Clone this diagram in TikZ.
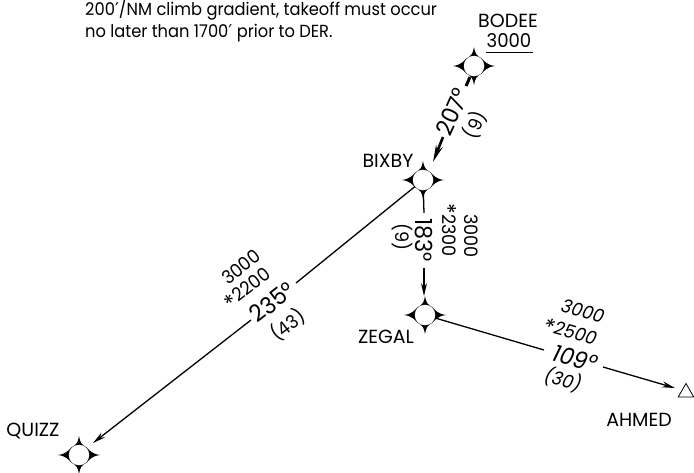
\documentclass[tikz,border=0pt]{standalone}
\usepackage{fontspec}
\setmainfont{Poppins}
\newfontfamily\primefont{DejaVu Sans}
\newfontfamily\notefont[FakeStretch=0.93]{Poppins}
\newfontfamily\narrowfont[FakeStretch=0.95]{Poppins}
\usetikzlibrary{arrows.meta,calc,shapes.geometric}
\tikzset{x=1pt,y=-1pt,
 fix/.style={circle,inner sep=0pt,minimum size=20.5pt,fill=white,draw=none},
 leg/.style={line width=1.3pt,black},
 legarrow/.style={line width=1.3pt,black,-{Stealth[length=13pt,width=6pt]}},
 lab/.style={font=\fontsize{19}{20}\selectfont,inner sep=0pt},
 num/.style={font=\narrowfont\fontsize{19}{20}\selectfont,inner sep=0pt},
 dist/.style={font=\narrowfont\fontsize{18.5}{20}\selectfont,inner sep=0pt},
 crs/.style={font=\narrowfont\fontsize{23.5}{25}\selectfont,inner sep=0pt},
 alt/.style={font=\narrowfont\fontsize{18.5}{20}\selectfont,inner sep=0pt},
 dists/.style={font=\narrowfont\itshape\fontsize{18.5}{20}\selectfont,inner sep=0pt},
 crss/.style={font=\narrowfont\itshape\fontsize{23.5}{25}\selectfont,inner sep=0pt},
 note/.style={font=\notefont\fontsize{17.5}{19}\selectfont,inner sep=0pt,anchor=west},
}
\newcommand{\fixstar}[1]{%
 \begin{scope}[shift={(#1)}]
 \fill[black] (0,-19) .. controls (1,-12) and (3,-10) .. (7.6,-7.6)
   .. controls (10,-5) and (13,-1) .. (21,0)
   .. controls (13,1) and (10,5) .. (7.6,7.6)
   .. controls (3,10) and (1,12) .. (0,19)
   .. controls (-1,12) and (-3,10) .. (-7.6,7.6)
   .. controls (-10,5) and (-13,1) .. (-21,0)
   .. controls (-13,-1) and (-10,-5) .. (-7.6,-7.6)
   .. controls (-3,-10) and (-1,-12) .. (0,-19) -- cycle;
 \end{scope}}
\newcommand{\stmark}{\raisebox{-0.35ex}{\fontsize{23}{23}\selectfont *}}
\newcommand{\pr}{{\primefont ′}}
\begin{document}
\begin{tikzpicture}
\useasboundingbox (0,0) rectangle (694,472);
\coordinate (pb) at (474,66);
\coordinate (px) at (423,180);
\coordinate (pz) at (425,315);
\coordinate (pq) at (79,455);
\node[inner sep=0pt,minimum size=1pt] (bodee) at (pb) {};
\node[inner sep=0pt,minimum size=1pt] (bixby) at (px) {};
\node[inner sep=0pt,minimum size=1pt] (zegal) at (pz) {};
\node[inner sep=0pt,minimum size=1pt] (quizz) at (pq) {};
\node[draw,line width=0.8pt,regular polygon,regular polygon sides=3,inner sep=0pt,minimum size=18pt] (ahmed) at (686,392.5) {};
\coordinate (a1) at (470,77); \coordinate (a2) at (466,86);
\coordinate (a3) at (443,137); \coordinate (a4) at (433,162);
\coordinate (b2) at (424,213); \coordinate (b3) at (424,268); \coordinate (b4) at (424,296);
\coordinate (c2) at (544,350); \coordinate (c3) at (603,367); \coordinate (c4) at (675,388);
\coordinate (d1) at (296,283); \coordinate (d2) at (251,320); \coordinate (d3) at (93,443);
\draw[line width=3pt] (a1) -- (a2);
\draw[line width=2.6pt,-{Stealth[length=17pt,width=7pt]}] (a3) -- (a4);
\draw[leg] (bixby) -- (b2);
\draw[legarrow] (b3) -- (b4);
\draw[leg] (zegal) -- (c2);
\draw[legarrow] (c3) -- (c4);
\draw[leg] (bixby) -- (d1);
\draw[legarrow] (d2) -- (d3);
\fixstar{pb}\fixstar{px}\fixstar{pz}\fixstar{pq}
\node[fix] (fb) at (pb) {};
\node[fix] (fx) at (px) {};
\node[fix] (fz) at (pz) {};
\node[fix] (fq) at (pq) {};
\node[note] (n1) at (85,10) {200\pr/NM climb gradient, takeoff must occur};
\node[note] (n2) at (85,33) {no later than 1700\pr{} prior to DER.};
\node[lab] (lb) at (508,21) {BODEE};
\node[num] (lb2) at (509,41) {3000};
\draw[line width=0.9pt] (486,52) -- (533,52);
\node[lab] (lx) at (388,161) {BIXBY};
\node[lab] (lz) at (386,337) {ZEGAL};
\node[lab] (la) at (639,420) {AHMED};
\node[lab] (lq) at (33,431) {QUIZZ};
\node[crs,rotate=66] (t1) at (452,112) {207°};
\node[dist,rotate=66] (t2) at (475,125) {(9)};
\node[crs,rotate=-90] (t3) at (424,240) {183°};
\node[dist,rotate=-90] (t4) at (402,237) {(9)};
\node[alt,rotate=-90] (t5) at (448,230) {\stmark 2300};
\node[alt,rotate=-90] (t6) at (471,236) {3000};
\node[alt,rotate=38] (t7) at (241,267) {3000};
\node[alt,rotate=38] (t8) at (248,289) {\stmark 2200};
\node[crs,rotate=38] (t9) at (272,302) {235°};
\node[dist,rotate=38] (t10) at (288,325) {(43)};
\node[dists,rotate=-16] (t11) at (583,311) {3000};
\node[dists,rotate=-16] (t12) at (570,333) {\stmark 2500};
\node[crss,rotate=-16] (t13) at (575,358) {109°};
\node[dists,rotate=-16] (t14) at (563,380) {(30)};
\end{tikzpicture}
\end{document}
